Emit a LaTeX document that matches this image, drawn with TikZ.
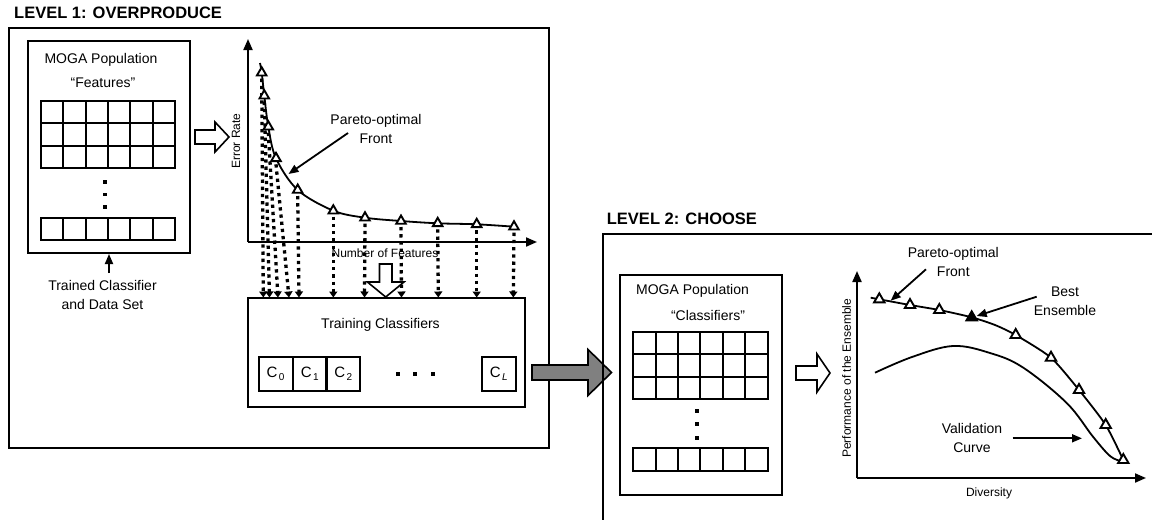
\documentclass[tikz,border=0pt]{standalone}
\usepackage{fontspec}
\setmainfont{Liberation Sans}
\usetikzlibrary{arrows.meta,shapes.geometric}
\newcommand\csub[1]{C\kern1.5pt\raisebox{-3.5pt}{\fontsize{10}{10}\selectfont #1}}
\definecolor{arrowgray}{RGB}{128,128,128}
\tikzset{
  boxline/.style={draw, line width=2pt},
  gridline/.style={line width=2pt},
  lbl/.style={font=\fontsize{14}{19}\selectfont, align=center, inner sep=0pt},
  small/.style={font=\fontsize{12}{14}\selectfont, inner sep=0pt},
  ttl/.style={font=\fontsize{16.5}{18}\selectfont\bfseries, anchor=west, inner sep=0pt},
  axis/.style={line width=2pt, -{Triangle[length=11pt,width=9pt]}},
  pointer/.style={line width=1.8pt, -{Triangle[length=10pt,width=8pt]}},
  curve/.style={line width=1.8pt},
  tri/.style={regular polygon, regular polygon sides=3, draw, line width=1.9pt, fill=white, inner sep=0pt, minimum size=#1},
  tri/.default=11pt,
  dotarrow/.style={line width=3.3pt, dash pattern=on 3.3pt off 3.9pt, -{Triangle[length=6pt,width=8pt]}},
  hollow/.style={draw, line width=1.6pt, fill=white, line join=miter},
  cbox/.style={draw, line width=2pt, minimum width=34pt, minimum height=34pt, inner sep=0pt, font=\fontsize{15}{15}\selectfont},
  sqdot/.style={fill, inner sep=0pt, minimum size=3.8pt}
}
\begin{document}
\begin{tikzpicture}[x=1pt,y=-1pt]
\useasboundingbox (0,0) rectangle (1152,520);

% ================= LEVEL 1 =================
\node[ttl] (title1) at (14,12.5) {LEVEL 1: OVERPRODUCE};
\draw[line width=2pt] (9,28) rectangle (549,448);

% MOGA population (features)
\node[boxline, minimum width=162pt, minimum height=212pt, inner sep=0pt] (moga1) at (109,147) {};
\node[lbl] (moga1t) at (101,60) {MOGA Population};
\node[lbl] (feat) at (103,83) {“Features”};
\draw[gridline] (41,101) rectangle (175,168);
\foreach \x in {63,86,108,130,153} \draw[gridline] (\x,101) -- (\x,168);
\foreach \y in {123,146} \draw[gridline] (41,\y) -- (175,\y);
\draw[gridline] (41,218) rectangle (175,240);
\foreach \x in {63,86,108,130,153} \draw[gridline] (\x,218) -- (\x,240);
\node[sqdot] (d1a) at (105,182) {};
\node[sqdot] (d1b) at (105,194.5) {};
\node[sqdot] (d1c) at (105,207) {};

\node[lbl] (trained) at (102.5,295) {Trained Classifier\\and Data Set};
\coordinate (tcs) at (109,273);
\draw[pointer] (tcs) -- (tcs |- moga1.south);

% hollow arrow 1
\draw[hollow] (195,130) -- (215,130) -- (215,122) -- (229,137) -- (215,152) -- (215,144) -- (195,144) -- cycle;

% chart 1 axes
\coordinate (o1) at (248,242);
\draw[axis] (o1) -- (248,39);
\draw[axis] (o1) -- (537,242);
\node[small, rotate=90] (err) at (236,141) {Error Rate};
\node[small] (nof) at (385,253) {Number of Features};

% training classifiers box
\node[boxline, minimum width=277pt, minimum height=109pt, inner sep=0pt] (train) at (386.5,352.5) {};
\node[lbl] (traint) at (380.5,325) {Training Classifiers};
\node[cbox] (c0) at (275.5,373.7) {\csub{0}};
\node[cbox] (c1) at (309.7,373.7) {\csub{1}};
\node[cbox] (c2) at (343.3,373.7) {\csub{2}};
\node[cbox] (cl) at (498.8,373.7) {\csub{\itshape L}};
\node[sqdot] (td1) at (397.7,374) {};
\node[sqdot] (td2) at (415.3,374) {};
\node[sqdot] (td3) at (433.3,374) {};

% pareto curve 1
\draw[curve] plot[smooth, tension=0.55] coordinates {(260,63) (261.7,72.7) (264.3,95.7) (268.3,126.7) (276,158.3) (297.7,190) (333.3,210.7) (365,217.7) (401,221) (437.7,223.3) (476.7,224.3) (514,226.7)};

% dotted arrows
\foreach \n/\px/\py/\ex in {1/261.7/72.7/263.3, 2/264.3/95.7/269.5, 3/268.3/126.7/278, 4/276/158.3/289, 5/297.7/190/299, 6/333.3/210.7/333.3, 7/365/217.7/364.5, 8/401/221/401.5, 9/437.7/223.3/438.3, 10/476.7/224.3/476.7, 11/514/226.7/513.3} {
  \coordinate (t\n) at (\ex,297.5);
  \draw[dotarrow] (\px,{\py+6}) -- (t\n);
}
\foreach \n/\px/\py in {1/261.7/72.7, 2/264.3/95.7, 3/268.3/126.7, 4/276/158.3, 5/297.7/190, 6/333.3/210.7, 7/365/217.7, 8/401/221, 9/437.7/223.3, 10/476.7/224.3, 11/514/226.7} {
  \node[tri=11pt] (p\n) at (\px,\py) {};
}

\node[lbl] (par1) at (376,128.5) {Pareto-optimal\\Front};
\draw[pointer] (348,133) -- (288.5,174);

% hollow down arrow
\draw[hollow] (379.5,264) -- (392,264) -- (392,282) -- (404,282) -- (385.7,297) -- (367.4,282) -- (379.5,282) -- cycle;

% gray arrow to level 2
\draw[line width=1.6pt, fill=arrowgray, line join=miter] (532,365) -- (588,365) -- (588,349.5) -- (611.5,372.5) -- (588,395.5) -- (588,380) -- (532,380) -- cycle;

% ================= LEVEL 2 =================
\node[ttl] (title2) at (606.7,219) {LEVEL 2: CHOOSE};
\draw[line width=2pt] (1152,234) -- (603,234) -- (603,520);

\node[boxline, minimum width=162pt, minimum height=220pt, inner sep=0pt] (moga2) at (701,385) {};
\node[lbl] (moga2t) at (692.5,290.7) {MOGA Population};
\node[lbl] (clf) at (708,315) {“Classifiers”};
\draw[gridline] (633,332) rectangle (768,399);
\foreach \x in {656,678,700,723,745} \draw[gridline] (\x,332) -- (\x,399);
\foreach \y in {354,377} \draw[gridline] (633,\y) -- (768,\y);
\draw[gridline] (633,448) rectangle (768,471);
\foreach \x in {656,678,700,723,745} \draw[gridline] (\x,448) -- (\x,471);
\node[sqdot] (d2a) at (697,411) {};
\node[sqdot] (d2b) at (697,424.3) {};
\node[sqdot] (d2c) at (697,437.7) {};

% hollow arrow 2
\draw[hollow] (796,366) -- (817,366) -- (817,354) -- (830,373) -- (817,392) -- (817,380) -- (796,380) -- cycle;

% chart 2 axes
\coordinate (o2) at (857,478);
\draw[axis] (o2) -- (857,271);
\draw[axis] (o2) -- (1146,478);
\node[small, rotate=90] (perf) at (846.7,378.3) {Performance of the Ensemble};
\node[small] (div) at (989,493.3) {Diversity};

% pareto curve 2
\draw[curve] plot[smooth, tension=0.4] coordinates {(870.7,297.7) (879.3,299.3) (910,305) (939.3,310) (971.7,317.3) (995,325) (1015.7,335) (1051,357.7) (1079,390) (1105.7,425) (1123.3,460)};
% validation curve
\draw[curve] plot[smooth, tension=0.6] coordinates {(875,372.7) (912,357) (953,346) (990,353) (1023,367.5) (1066.7,403) (1093,436.7) (1110,456) (1121,461)};

\foreach \n/\px/\py in {1/879.3/299.3, 2/910/305, 3/939.3/310, 5/1015.7/335, 6/1051/357.7, 7/1079/390, 8/1105.7/425, 9/1123.3/460} {
  \node[tri=12pt] (q\n) at (\px,\py) {};
}
\node[tri=12pt, fill=black] (q4) at (971.7,317.3) {};

\node[lbl] (par2) at (953.3,261.7) {Pareto-optimal\\Front};
\draw[pointer] (926,269.3) -- (890.7,300.7);
\node[lbl] (best) at (1065,301.5) {Best\\Ensemble};
\draw[pointer] (1036.7,296.7) -- (976.7,316);
\node[lbl] (valid) at (972,438) {Validation\\Curve};
\draw[pointer] (1012.7,438.3) -- (1082,438.3);
\end{tikzpicture}
\end{document}
